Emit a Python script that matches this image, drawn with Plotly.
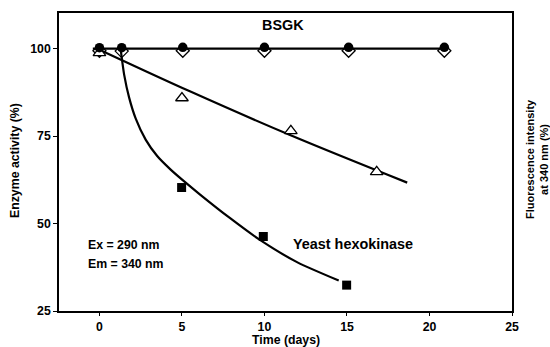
import plotly.graph_objects as go

# Marker data
circ_x = [0, 1.35, 5.05, 10.0, 15.1, 20.9]
circ_y = [100.3, 100.3, 100.4, 100.4, 100.4, 100.4]
diam_x = [0, 1.35, 5.05, 10.0, 15.1, 20.9]
diam_y = [99.4, 99.3, 99.4, 99.4, 99.4, 99.4]
tri_x = [0, 5.0, 11.6, 16.8]
tri_y = [98.8, 85.9, 76.5, 64.8]
sq_x = [4.98, 9.93, 14.98]
sq_y = [60.3, 46.3, 32.4]

# Fitted curves
flat_x = [-0.4, 21.1]
flat_y = [100.0, 100.0]
tline_x = [0.0, 5.48, 11.55, 18.65]
tline_y = [99.7, 87.8, 75.3, 61.7]
ycurve_x = [1.3, 1.5, 1.8, 2.2, 2.8, 3.5, 4.3, 5.1, 6.1, 7.9, 9.7, 12.0, 14.5]
ycurve_y = [99.3, 92.5, 86.0, 80.0, 74.0, 69.3, 65.5, 62.2, 58.3, 51.6, 45.4, 38.9, 33.7]

x_ticks = [0, 5, 10, 15, 20, 25]
y_ticks = [25, 50, 75, 100]

FONT = "Liberation Sans, Arial, sans-serif"
fig = go.Figure()

fig.add_trace(go.Scatter(x=flat_x, y=flat_y, mode="lines",
                         line=dict(color="black", width=2.2), showlegend=False))
fig.add_trace(go.Scatter(x=tline_x, y=tline_y, mode="lines",
                         line=dict(color="black", width=2.2, shape="spline"), showlegend=False))
fig.add_trace(go.Scatter(x=ycurve_x, y=ycurve_y, mode="lines",
                         line=dict(color="black", width=2.2, shape="spline", smoothing=0.6),
                         showlegend=False))

fig.add_trace(go.Scatter(x=diam_x, y=diam_y, mode="markers",
                         marker=dict(symbol="diamond-open", size=10, color="black",
                                     line=dict(width=1.3, color="black")), showlegend=False))
fig.add_trace(go.Scatter(x=tri_x, y=tri_y, mode="markers",
                         marker=dict(symbol="triangle-up", size=11, color="white",
                                     line=dict(width=1.3, color="black")), showlegend=False))
fig.add_trace(go.Scatter(x=circ_x, y=circ_y, mode="markers",
                         marker=dict(symbol="circle", size=9.5, color="black"), showlegend=False))
fig.add_trace(go.Scatter(x=sq_x, y=sq_y, mode="markers",
                         marker=dict(symbol="square", size=9, color="black"), showlegend=False))

TS = 12.3
fig.update_layout(
    width=550, height=347,
    margin=dict(l=59, r=38, t=11, b=36),
    paper_bgcolor="white", plot_bgcolor="white",
    font=dict(family=FONT, size=TS, color="black"),
    xaxis=dict(range=[-2.45, 25], tickvals=x_ticks, showgrid=False, zeroline=False,
               showline=True, linecolor="black", linewidth=1.5, mirror=True,
               ticks="outside", ticklen=3, tickwidth=1.2, tickcolor="black",
               tickfont=dict(family=FONT, size=TS, weight="bold")),
    yaxis=dict(range=[25, 110.2], tickvals=y_ticks, showgrid=False, zeroline=False,
               showline=True, linecolor="black", linewidth=1.5, mirror=True,
               ticks="outside", ticklen=4, tickwidth=1.2, tickcolor="black",
               tickfont=dict(family=FONT, size=TS, weight="bold")),
)

# annotations positioned in pixels, converted to paper coordinates
L, R, T, B = 59, 512, 11, 311
def ann(text, px, py, size, angle=0, xanchor="center"):
    return dict(text=text, x=(px - L) / (R - L), y=(B - py) / (B - T),
                xref="paper", yref="paper", xanchor=xanchor, yanchor="middle",
                showarrow=False, textangle=angle, font=dict(family=FONT, size=size))

fig.update_layout(annotations=[
    ann("<b>Time (days)</b>", 286, 340, TS),
    ann("<b>BSGK</b>", 283, 23.5, 14.4),
    ann("<b>Yeast hexokinase</b>", 352.5, 244, 14.4),
    ann("<b>Ex = 290 nm</b>", 86, 244.3, TS, xanchor="left"),
    ann("<b>Em = 340 nm</b>", 86, 263.3, TS, xanchor="left"),
    ann("<b>Enzyme activity (%)</b>", 15, 160, TS, angle=-90),
    ann("<b>Fluorescence intensity</b><br><b>at 340 nm (%)</b>", 537, 158, 11, angle=-90),
])

fig.write_html("out.html")
